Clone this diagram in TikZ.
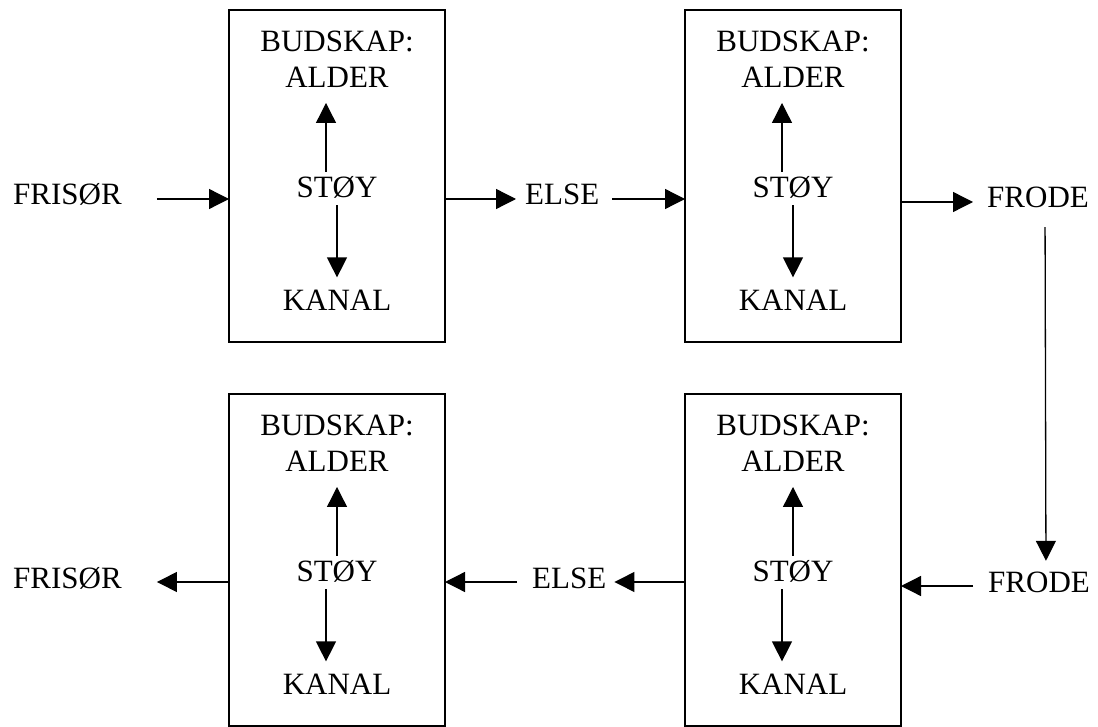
\documentclass[tikz,border=0pt]{standalone}
\usepackage{fontspec}
\setmainfont{Liberation Serif}
\usetikzlibrary{arrows.meta,positioning}

\begin{document}
\begin{tikzpicture}[x=1pt, y=-1pt, >={Triangle[length=20pt,width=20pt]},
  font=\fontsize{31}{36}\selectfont,
  box/.style={draw, line width=2pt, minimum width=216pt, minimum height=332pt, inner sep=0pt, outer sep=0pt},
  word/.style={inner sep=0pt, text height=12pt, text depth=0pt},
  boxtext/.style={inner sep=0pt, text height=21pt, text depth=0pt},
  msg/.style={inner sep=0pt, align=center},
  flow/.style={->, line width=1.3pt},
  rise/.style={flow, shorten <=4pt, shorten >=15pt},
  fall/.style={flow, shorten <=8pt, shorten >=12pt}]
  \useasboundingbox (0,0) rectangle (1098,727);

  \node[box] (b1) at (337,176) {};
  \node[box] (b2) [right=240pt of b1] {};
  \node[box] (b3) [below=52pt of b1] {};
  \node[box] (b4) [below=52pt of b2] {};

  \node[msg] (m1) [below=21pt of b1.north] {BUDSKAP:\\ALDER};
  \node[boxtext] (s1) [below=88pt of m1] {STØY};
  \node[boxtext] (k1) [below=92pt of s1] {KANAL};
  \draw[rise] ([xshift=-11pt]s1.north) -- ([xshift=-11pt]m1.south);
  \draw[fall] (s1.south) -- (k1.north);

  \node[msg] (m2) [below=21pt of b2.north] {BUDSKAP:\\ALDER};
  \node[boxtext] (s2) [below=88pt of m2] {STØY};
  \node[boxtext] (k2) [below=92pt of s2] {KANAL};
  \draw[rise] ([xshift=-11pt]s2.north) -- ([xshift=-11pt]m2.south);
  \draw[fall] (s2.south) -- (k2.north);

  \node[msg] (m3) [below=21pt of b3.north] {BUDSKAP:\\ALDER};
  \node[boxtext] (s3) [below=88pt of m3] {STØY};
  \node[boxtext] (k3) [below=92pt of s3] {KANAL};
  \draw[rise] (s3.north) -- (m3.south);
  \draw[fall] ([xshift=-11pt]s3.south) -- ([xshift=-11pt]k3.north);

  \node[msg] (m4) [below=21pt of b4.north] {BUDSKAP:\\ALDER};
  \node[boxtext] (s4) [below=88pt of m4] {STØY};
  \node[boxtext] (k4) [below=92pt of s4] {KANAL};
  \draw[rise] (s4.north) -- (m4.south);
  \draw[fall] ([xshift=-11pt]s4.south) -- ([xshift=-11pt]k4.north);

  \node[word, anchor=base west] (f1) at (13,205) {FRISØR};
  \node[word, anchor=base west] (e1) at (525,205) {ELSE};
  \node[word, anchor=base west] (d1) at (987,208) {FRODE};
  \node[word, anchor=base west] (f2) at (13,588) {FRISØR};
  \node[word, anchor=base west] (e2) at (532,588) {ELSE};
  \node[word, anchor=base west] (d2) at (988,592) {FRODE};

  \draw[flow, shorten <=35pt] (f1.east) -- (f1.east -| b1.west);
  \draw[flow, shorten >=9pt] (b1.east |- e1.west) -- (e1.west);
  \draw[flow, shorten <=13pt] (e1.east) -- (e1.east -| b2.west);
  \draw[flow, shorten >=14pt] (b2.east |- d1.west) -- (d1.west);
  \draw[flow, shorten <=19pt, shorten >=19pt] ([xshift=7pt]d1.south) -- ([xshift=7pt]d2.north);
  \draw[flow, shorten <=15pt] (d2.west) -- (d2.west -| b4.east);
  \draw[flow, shorten >=8pt] (b4.west |- e2.east) -- (e2.east);
  \draw[flow, shorten <=15pt] (e2.west) -- (e2.west -| b3.east);
  \draw[flow, shorten >=35pt] (b3.west |- f2.east) -- (f2.east);
\end{tikzpicture}
\end{document}
